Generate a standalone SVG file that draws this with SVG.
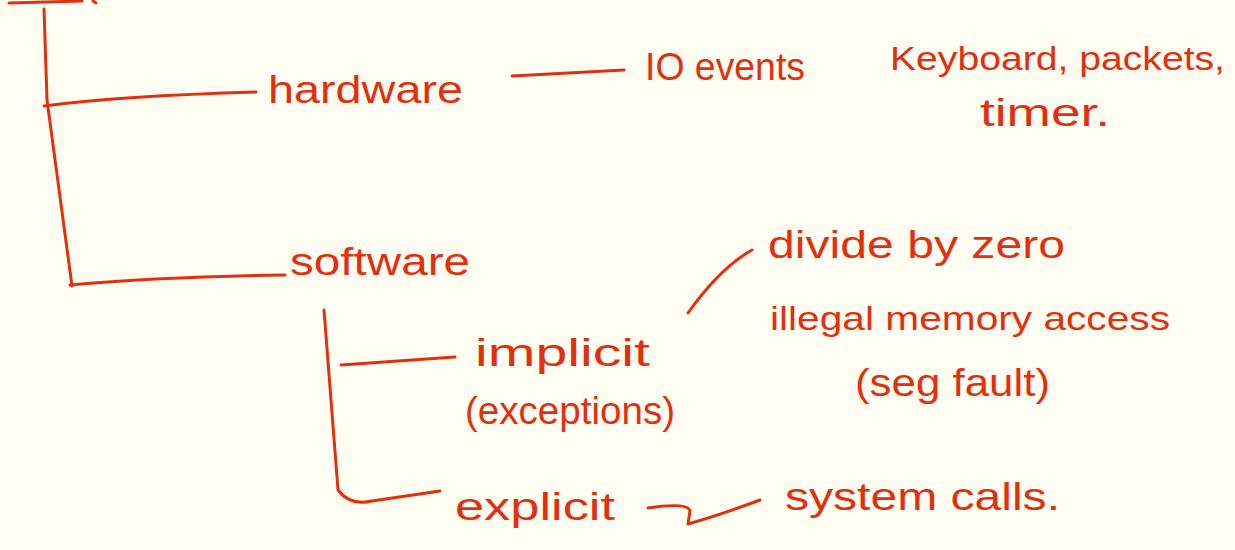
<svg xmlns="http://www.w3.org/2000/svg" width="1235" height="550" viewBox="0 0 1235 550">
<style>
.ink{fill:none;stroke:#e2300f;stroke-width:3;stroke-linecap:round;stroke-linejoin:round}
.t{fill:#e2300f;font-family:"Liberation Sans",Arial,sans-serif;font-size:38px}
.s{font-size:34px}
</style>
<rect width="1235" height="550" fill="#fffdf1"/>
<g id="connectors">
<path class="ink" d="M9,3 L82,1"/>
<path class="ink" d="M93,1 L96,3"/>
<path class="ink" d="M44,9 L47,100 L72,286"/>
<path class="ink" d="M44,106 Q120,96 256,92"/>
<path class="ink" d="M70,285 Q160,277 285,275"/>
<path class="ink" d="M512,76 L624,70"/>
<path class="ink" d="M324,310 L338,490 Q350,506 372,501 L440,491"/>
<path class="ink" d="M341,365 L455,357"/>
<path class="ink" d="M688,313 Q720,268 752,250"/>
<path class="ink" d="M648,508 Q688,502 690,511 L688,524 Q720,515 760,500"/>
</g>
<g id="hardware"><text class="t" x="268" y="103" textLength="195" lengthAdjust="spacingAndGlyphs">hardware</text></g>
<g id="io"><text class="t" x="645" y="80" textLength="160" lengthAdjust="spacingAndGlyphs">IO events</text></g>
<g id="hwex">
<text class="t s" x="890" y="70" textLength="335" lengthAdjust="spacingAndGlyphs">Keyboard, packets,</text>
<text class="t" x="980" y="126" textLength="130" lengthAdjust="spacingAndGlyphs">timer.</text>
</g>
<g id="software"><text class="t" x="290" y="275" textLength="180" lengthAdjust="spacingAndGlyphs">software</text></g>
<g id="divide"><text class="t" x="768" y="258" textLength="297" lengthAdjust="spacingAndGlyphs">divide by zero</text></g>
<g id="implicit">
<text class="t" x="475" y="366" textLength="175" lengthAdjust="spacingAndGlyphs">implicit</text>
<text class="t" x="465" y="424" textLength="210" lengthAdjust="spacingAndGlyphs">(exceptions)</text>
</g>
<g id="illegal">
<text class="t s" x="770" y="330" textLength="400" lengthAdjust="spacingAndGlyphs">illegal memory access</text>
<text class="t" x="855" y="396" textLength="195" lengthAdjust="spacingAndGlyphs">(seg fault)</text>
</g>
<g id="explicit"><text class="t" x="455" y="520" textLength="160" lengthAdjust="spacingAndGlyphs">explicit</text></g>
<g id="syscalls"><text class="t" x="785" y="510" textLength="275" lengthAdjust="spacingAndGlyphs">system calls.</text></g>
</svg>
